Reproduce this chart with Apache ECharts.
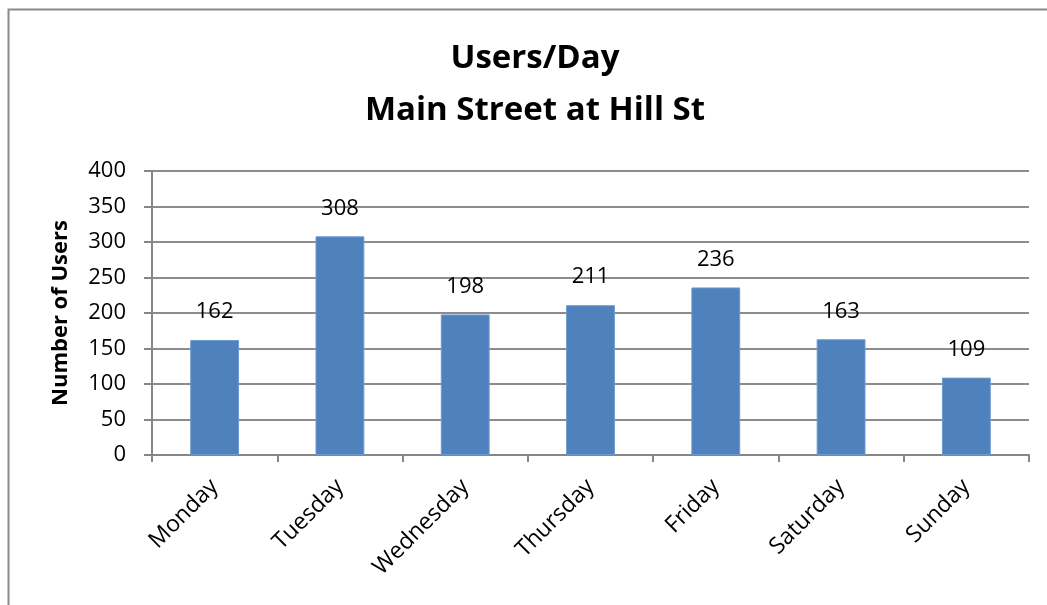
<!DOCTYPE html>
<html>
<head>
<meta charset="utf-8">
<script src="https://cdn.jsdelivr.net/npm/echarts@6/dist/echarts.min.js"></script>
<style>
html,body{margin:0;padding:0;background:#fff;}
#main{width:1047px;height:605px;}
</style>
</head>
<body>
<div id="main"></div>
<script>
const titleLines = ['Users/Day', 'Main Street at Hill St'];
const categories = ['Monday', 'Tuesday', 'Wednesday', 'Thursday', 'Friday', 'Saturday', 'Sunday'];
const users = [162, 308, 198, 211, 236, 163, 109];
const yTicks = { min: 0, max: 400, interval: 50 };
const yAxisName = 'Number of Users';

const FONT = 'Open Sans';
const chart = echarts.init(document.getElementById('main'), null, { renderer: 'canvas' });
chart.setOption({
  backgroundColor: '#ffffff',
  animation: false,
  graphic: [{
    type: 'rect',
    left: 6, top: 7,
    shape: { width: 1100, height: 700 },
    style: { fill: 'none', stroke: '#8a8a8a', lineWidth: 2 },
    z: -1
  }],
  title: {
    text: titleLines.join('\n'),
    left: 530, top: 28,
    textAlign: 'center',
    textStyle: { fontFamily: FONT, fontWeight: 'bold', fontSize: 33, lineHeight: 52, color: '#000' }
  },
  grid: { left: 152, right: 18, top: 171, bottom: 150, containLabel: false },
  xAxis: {
    type: 'category',
    data: categories,
    axisLine: { lineStyle: { color: '#868686', width: 2 } },
    axisTick: { show: true, length: 7, lineStyle: { color: '#868686', width: 2 } },
    axisLabel: { rotate: 45, margin: 28, fontFamily: FONT, fontSize: 23, color: '#000', interval: 0 }
  },
  yAxis: {
    type: 'value',
    min: yTicks.min, max: yTicks.max, interval: yTicks.interval,
    name: yAxisName,
    nameLocation: 'middle',
    nameGap: 80,
    nameRotate: 90,
    nameTextStyle: { fontFamily: FONT, fontWeight: 'bold', fontSize: 22, color: '#000' },
    axisLine: { show: true, lineStyle: { color: '#868686', width: 2 } },
    axisTick: { show: true, length: 8, lineStyle: { color: '#868686', width: 2 } },
    axisLabel: { margin: 26, fontFamily: FONT, fontSize: 22, color: '#000' },
    splitLine: { lineStyle: { color: '#8c8c8c', width: 2 } }
  },
  series: [{
    type: 'bar',
    data: users,
    barWidth: '39%',
    itemStyle: { color: '#4F81BD', borderColor: '#6F9AD0', borderWidth: 1 },
    label: { show: true, position: 'top', distance: 17, fontFamily: FONT, fontSize: 22, color: '#000' }
  }]
});
</script>
</body>
</html>
